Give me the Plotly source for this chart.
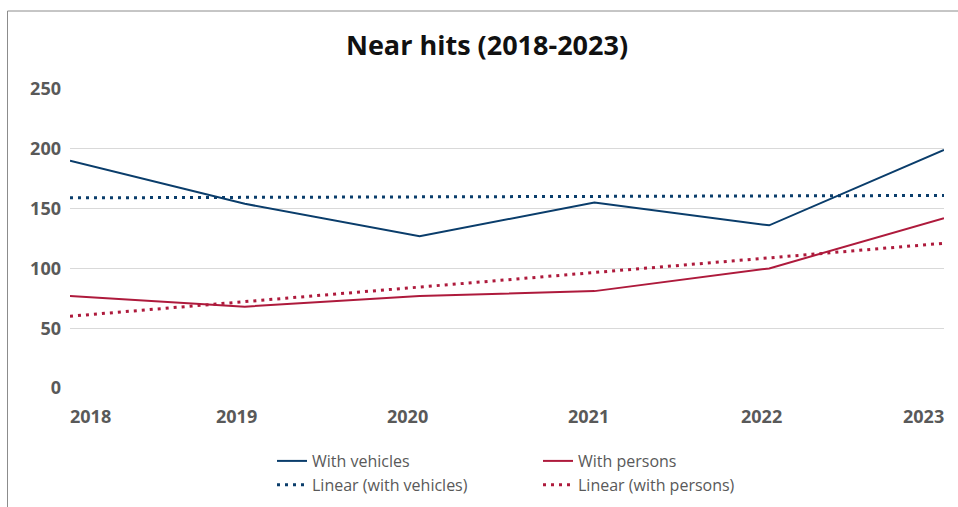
import plotly.graph_objects as go

years = [2018, 2019, 2020, 2021, 2022, 2023]
year_labels = ["2018", "2019", "2020", "2021", "2022", "2023"]
with_vehicles = [190, 154, 127, 155, 136, 199]
with_persons = [77, 68, 77, 81, 100, 142]
trend_years = [2018, 2023]
trend_vehicles = [159, 161]
trend_persons = [60, 121]

BLUE = "#0a3d6b"
RED = "#ae1a3c"
GRAY = "#595959"
FONT = "Open Sans"

W, H = 958, 507
ML, MR, MT, MB = 70, 14, 89, 119

fig = go.Figure()
fig.add_trace(go.Scatter(x=years, y=with_vehicles, mode="lines", name="With vehicles",
                         line=dict(color=BLUE, width=2), legend="legend"))
fig.add_trace(go.Scatter(x=years, y=with_persons, mode="lines", name="With persons",
                         line=dict(color=RED, width=2), legend="legend2"))
fig.add_trace(go.Scatter(x=trend_years, y=trend_vehicles, mode="lines", name="Linear (with vehicles)",
                         line=dict(color=BLUE, width=3, dash="3px,5px"), legend="legend"))
fig.add_trace(go.Scatter(x=trend_years, y=trend_persons, mode="lines", name="Linear (with persons)",
                         line=dict(color=RED, width=3, dash="3px,5px"), legend="legend2"))

pw = W - ML - MR
ph = H - MT - MB

def px_x(p):
    return (p - ML) / pw

def px_y(p):
    return (H - MB - p) / ph

anchors = ["left", "center", "center", "center", "center", "right"]
shifts = [-2, -8, -12, -6, -8, 2]
annotations = []
for yr, lab, a, s in zip(years, year_labels, anchors, shifts):
    annotations.append(dict(x=yr, y=0, xref="x", yref="y", text=lab, showarrow=False,
                            xanchor=a, yanchor="middle", xshift=s, yshift=-28,
                            font=dict(family=FONT, size=18, color=GRAY, weight="bold")))

legend_common = dict(orientation="v", xanchor="left", yanchor="top",
                     font=dict(family=FONT, size=16, color=GRAY),
                     bgcolor="rgba(0,0,0,0)", tracegroupgap=0, itemwidth=30)

fig.update_layout(
    width=W, height=H,
    margin=dict(l=ML, r=MR, t=MT, b=MB, autoexpand=False),
    paper_bgcolor="white", plot_bgcolor="white",
    title=dict(text="<b>Near hits (2018-2023)</b>", x=487 / W, xanchor="center",
               y=1 - 46 / H, yanchor="middle",
               font=dict(family=FONT, size=27, color="#111111")),
    xaxis=dict(range=[2018, 2023], showticklabels=False, showgrid=False, zeroline=False,
               showline=False, ticks=""),
    yaxis=dict(range=[0, 250], dtick=50, tick0=0, showgrid=True, gridcolor="#d9d9d9",
               gridwidth=1, zeroline=False, showline=False, ticks="",
               ticklabelstandoff=8,
               tickfont=dict(family=FONT, size=18, color=GRAY, weight="bold")),
    legend=dict(x=px_x(272), y=px_y(444), **legend_common),
    legend2=dict(x=px_x(538), y=px_y(444), **legend_common),
    annotations=annotations,
    shapes=[
        dict(type="line", xref="paper", yref="paper", x0=px_x(7.5), x1=px_x(7.5),
             y0=px_y(11), y1=px_y(507), line=dict(color="#8c8c8c", width=1)),
        dict(type="line", xref="paper", yref="paper", x0=px_x(7.5), x1=px_x(958),
             y0=px_y(11), y1=px_y(11), line=dict(color="#8c8c8c", width=1)),
    ],
)

fig.write_html("out.html", config={"displayModeBar": False},
               post_script="document.body.style.margin='0';document.body.style.overflow='hidden';")
